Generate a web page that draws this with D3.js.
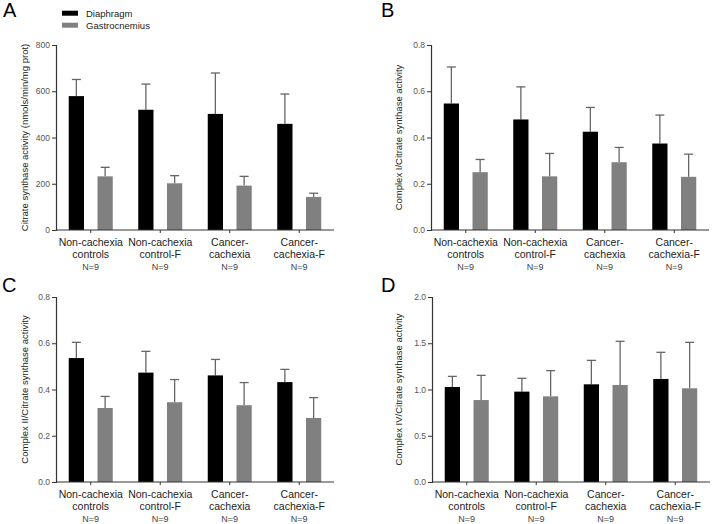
<!DOCTYPE html>
<html>
<head>
<meta charset="utf-8">
<script src="https://cdn.jsdelivr.net/npm/d3@7"></script>
<style>
  html, body { margin: 0; padding: 0; background: #fff; }
  svg { display: block; font-family: "Liberation Sans", Arial, sans-serif; }
</style>
</head>
<body>
<svg id="chart" width="712" height="524"></svg>
<script>
const categories = [
  ["Non-cachexia", "controls"],
  ["Non-cachexia", "control-F"],
  ["Cancer-", "cachexia"],
  ["Cancer-", "cachexia-F"]
];
const sampleSizes = ["N=9", "N=9", "N=9", "N=9"];
const seriesNames = ["Diaphragm", "Gastrocnemius"];

// Panel A: citrate synthase activity
const aDiaphragm = [579, 520, 502, 459];
const aDiaphragmErr = [651, 631, 679, 588];
const aGastro = [232, 202, 192, 143];
const aGastroErr = [271, 235, 232, 159];
const aTicks = [0, 200, 400, 600, 800];

// Panel B: Complex I / CS
const bDiaphragm = [0.547, 0.478, 0.425, 0.374];
const bDiaphragmErr = [0.705, 0.619, 0.530, 0.497];
const bGastro = [0.250, 0.232, 0.293, 0.230];
const bGastroErr = [0.305, 0.331, 0.357, 0.328];
const bTicks = [0, 0.2, 0.4, 0.6, 0.8];

// Panel C: Complex II / CS
const cDiaphragm = [0.536, 0.473, 0.461, 0.432];
const cDiaphragmErr = [0.604, 0.565, 0.530, 0.487];
const cGastro = [0.320, 0.345, 0.332, 0.277];
const cGastroErr = [0.370, 0.443, 0.430, 0.365];
const cTicks = [0, 0.2, 0.4, 0.6, 0.8];

// Panel D: Complex IV / CS
const dDiaphragm = [1.027, 0.977, 1.056, 1.114];
const dDiaphragmErr = [1.142, 1.121, 1.315, 1.402];
const dGastro = [0.886, 0.926, 1.049, 1.013];
const dGastroErr = [1.153, 1.204, 1.521, 1.510];
const dTicks = [0, 0.5, 1.0, 1.5, 2.0];

const colors = ["#000000", "#808080"];

const panels = [
  { label: "A", lx: 3, ly: 17, x0: 56, x1: 334, top: 45, bottom: 230,
    max: 800, ticks: aTicks, fmt: d3.format("d"),
    title: "Citrate synthase activity (nmols/min/mg prot)", tx: 25,
    series: [[aDiaphragm, aDiaphragmErr], [aGastro, aGastroErr]] },
  { label: "B", lx: 381, ly: 17, x0: 431, x1: 709, top: 45, bottom: 230,
    max: 0.8, ticks: bTicks, fmt: d3.format(".1f"),
    title: "Complex I/Citrate synthase activity", tx: 399,
    series: [[bDiaphragm, bDiaphragmErr], [bGastro, bGastroErr]] },
  { label: "C", lx: 2, ly: 292, x0: 56, x1: 334, top: 297, bottom: 482,
    max: 0.8, ticks: cTicks, fmt: d3.format(".1f"),
    title: "Complex II/Citrate synthase activity", tx: 25,
    series: [[cDiaphragm, cDiaphragmErr], [cGastro, cGastroErr]] },
  { label: "D", lx: 381, ly: 292, x0: 432, x1: 710, top: 297, bottom: 482,
    max: 2.0, ticks: dTicks, fmt: d3.format(".1f"),
    title: "Complex IV/Citrate synthase activity", tx: 399,
    series: [[dDiaphragm, dDiaphragmErr], [dGastro, dGastroErr]] }
];

const svg = d3.select("#chart");

panels.forEach(p => {
  const g = svg.append("g");
  const x = d3.scaleBand().domain(d3.range(categories.length)).range([p.x0, p.x1]).padding(0);
  const xs = d3.scaleBand().domain(d3.range(seriesNames.length))
    .range([-22, 22]).paddingInner(0.47).paddingOuter(0);
  const y = d3.scaleLinear().domain([0, p.max]).range([p.bottom, p.top]);

  // panel letter
  g.append("text").attr("x", p.lx).attr("y", p.ly)
    .attr("font-size", 20).attr("fill", "#000").text(p.label);

  // bars + error bars
  p.series.forEach(([vals, errs], si) => {
    const sg = g.append("g");
    vals.forEach((v, i) => {
      const cx = x(i) + x.bandwidth() / 2;
      const bx = cx + xs(si);
      const bw = xs.bandwidth();
      const mid = bx + bw / 2;
      sg.append("line")
        .attr("x1", mid).attr("x2", mid)
        .attr("y1", y(v)).attr("y2", y(errs[i]))
        .attr("stroke", "#666").attr("stroke-width", 1.3);
      sg.append("line")
        .attr("x1", mid - 4.5).attr("x2", mid + 4.5)
        .attr("y1", y(errs[i])).attr("y2", y(errs[i]))
        .attr("stroke", "#666").attr("stroke-width", 1.3);
      sg.append("rect")
        .attr("x", bx).attr("width", bw)
        .attr("y", y(v)).attr("height", y(0) - y(v))
        .attr("fill", colors[si]);
    });
  });

  // y axis
  const yAxis = d3.axisLeft(y).tickValues(p.ticks).tickFormat(p.fmt)
    .tickSize(4).tickPadding(2);
  const ya = g.append("g").attr("transform", `translate(${p.x0},0)`).call(yAxis);
  ya.select(".domain").attr("stroke", "#333").attr("stroke-width", 1.2);
  ya.selectAll(".tick line").attr("stroke", "#333");
  ya.selectAll(".tick text").attr("font-size", 8.5).attr("fill", "#555")
    .attr("font-family", "Liberation Sans, Arial, sans-serif");

  // x axis
  const xAxis = d3.axisBottom(x).tickSize(3).tickFormat("");
  const xa = g.append("g").attr("transform", `translate(0,${p.bottom})`).call(xAxis);
  xa.select(".domain").attr("stroke", "#333").attr("stroke-width", 1.2)
    .attr("d", `M${p.x0},0H${p.x1}`);
  xa.selectAll(".tick line").attr("stroke", "#333");

  // category labels
  categories.forEach((c, i) => {
    const cx = x(i) + x.bandwidth() / 2;
    c.forEach((line, li) => {
      g.append("text").attr("x", cx).attr("y", p.bottom + 16 + li * 12)
        .attr("text-anchor", "middle").attr("font-size", 10.5).attr("fill", "#222")
        .text(line);
    });
    g.append("text").attr("x", cx).attr("y", p.bottom + 40)
      .attr("text-anchor", "middle").attr("font-size", 9).attr("fill", "#444")
      .text(sampleSizes[i]);
  });

  // y title
  g.append("text")
    .attr("transform", `translate(${p.tx + 3},${(p.top + p.bottom) / 2}) rotate(-90)`)
    .attr("text-anchor", "middle").attr("font-size", 9.5).attr("fill", "#222")
    .text(p.title);
});

// legend
const legend = svg.append("g");
seriesNames.forEach((name, i) => {
  legend.append("rect").attr("x", 62).attr("y", 10.7 + i * 12).attr("width", 16).attr("height", 5)
    .attr("fill", colors[i]);
  legend.append("text").attr("x", 86).attr("y", 16.5 + i * 12)
    .attr("font-size", 9.5).attr("fill", "#222").text(name);
});
</script>
</body>
</html>
